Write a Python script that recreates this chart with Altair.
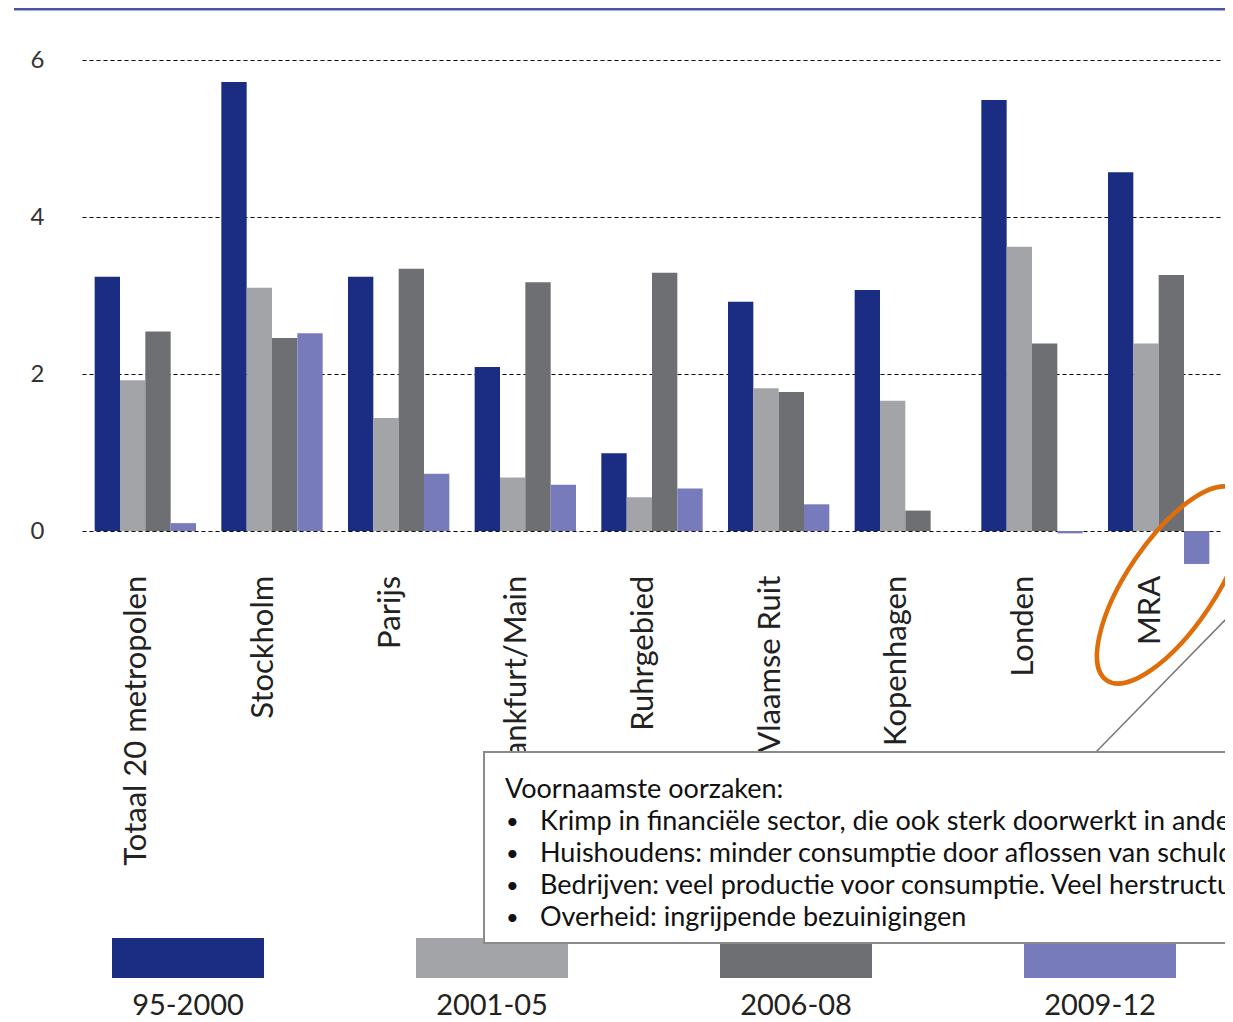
import altair as alt
import pandas as pd

cities = ["Totaal 20 metropolen", "Stockholm", "Parijs", "Frankfurt/Main", "Ruhrgebied",
          "Vlaamse Ruit", "Kopenhagen", "Londen", "MRA"]
periods = ["95-2000", "2001-05", "2006-08", "2009-12"]
colors = ["#1a2d83", "#a3a4a8", "#6e6f73", "#787bbb"]

v_95_2000 = [3.24, 5.72, 3.24, 2.09, 0.99, 2.92, 3.07, 5.49, 4.57]
v_2001_05 = [1.92, 3.10, 1.44, 0.68, 0.43, 1.82, 1.66, 3.62, 2.39]
v_2006_08 = [2.54, 2.46, 3.34, 3.17, 3.29, 1.77, 0.26, 2.39, 3.26]
v_2009_12 = [0.10, 2.52, 0.73, 0.59, 0.54, 0.34, 0.00, -0.03, -0.42]

y_ticks = [0, 2, 4, 6]

note_title = "Voornaamste oorzaken:"
note_items = [
    "Krimp in financiële sector, die ook sterk doorwerkt in andere sectoren",
    "Huishoudens: minder consumptie door aflossen van schulden",
    "Bedrijven: veel productie voor consumptie. Veel herstructureringen",
    "Overheid: ingrijpende bezuinigingen",
]

rows = []
for p, vals in zip(periods, [v_95_2000, v_2001_05, v_2006_08, v_2009_12]):
    for c, v in zip(cities, vals):
        rows.append({"city": c, "period": p, "value": v})
df = pd.DataFrame(rows)
legend_df = pd.DataFrame({"period": periods})
one = pd.DataFrame({"a": [0]})

FONT = "Lato"
color_enc = alt.Color("period:N", scale=alt.Scale(domain=periods, range=colors), legend=None)

bars = alt.Chart(df).mark_bar().encode(
    x=alt.X("city:N", sort=cities, title=None,
            scale=alt.Scale(paddingInner=0.2, paddingOuter=0.1),
            axis=alt.Axis(labelAngle=-90, labelFontSize=31, labelFont=FONT, labelColor="#222222",
                          labelPadding=5, labelLimit=500, labelOffset=-8, ticks=False, tickSize=0,
                          domain=False, grid=False)),
    xOffset=alt.XOffset("period:N", sort=periods, scale=alt.Scale(paddingInner=0, paddingOuter=0)),
    y=alt.Y("value:Q", title=None, scale=alt.Scale(domain=[-0.5, 6], nice=False, zero=False),
            axis=alt.Axis(values=y_ticks, labelFontSize=24, labelFont=FONT, labelColor="#333333",
                          labelPadding=38, ticks=False, tickSize=0, domain=False,
                          grid=True, gridDash=[4, 3], gridColor="#000000", gridWidth=1.2)),
    color=color_enc,
)

legend_x = alt.X("period:N", sort=periods, title=None, axis=None,
                 scale=alt.Scale(domain=periods, range=[-46, 1170], paddingInner=0.5, paddingOuter=0.25))

legend_rects = alt.Chart(legend_df).mark_rect().encode(
    x=legend_x, y=alt.value(878), y2=alt.value(918), color=color_enc,
)
legend_text = alt.Chart(legend_df).mark_text(
    font=FONT, fontSize=29, color="#222222", baseline="alphabetic", align="center"
).encode(x=legend_x, y=alt.value(955), text="period:N")

top_line = alt.Chart(one).mark_rule(color="#4a53a6", strokeWidth=3).encode(
    x=alt.value(-68), x2=alt.value(1180), y=alt.value(-51)
)

pointer = alt.Chart(one).mark_rule(color="#777777", strokeWidth=1.5).encode(
    x=alt.value(1014), y=alt.value(692), x2=alt.value(1146), y2=alt.value(557)
)

box = alt.Chart(one).mark_rect(fill="white", stroke="#8a8a8a", strokeWidth=2).encode(
    x=alt.value(402), x2=alt.value(1200), y=alt.value(692), y2=alt.value(883)
)

title_text = alt.Chart(one).mark_text(
    text=note_title, font=FONT, fontSize=27, color="#111111", align="left", baseline="alphabetic"
).encode(x=alt.value(423), y=alt.value(738))

item_text = alt.Chart(one).mark_text(
    text="\n".join(note_items), lineBreak="\n", lineHeight=32, font=FONT, fontSize=27,
    color="#111111", align="left", baseline="alphabetic"
).encode(x=alt.value(458), y=alt.value(770))

bullets = alt.Chart(one).mark_text(
    text="\n".join(["•"] * len(note_items)), lineBreak="\n", lineHeight=32, font=FONT,
    fontSize=22, color="#111111", align="left", baseline="alphabetic"
).encode(x=alt.value(424), y=alt.value(769))

ellipse_path = ("M 1 0 C 1 0.2121 0.5523 0.384 0 0.384 C -0.5523 0.384 -1 0.2121 -1 0 "
                "C -1 -0.2121 -0.5523 -0.384 0 -0.384 C 0.5523 -0.384 1 -0.2121 1 0 Z")
ellipse = alt.Chart(one).mark_point(
    shape=ellipse_path, size=52900, angle=304, filled=False, stroke="#de6e0c",
    strokeWidth=4.5, opacity=1
).encode(x=alt.value(1089), y=alt.value(525))

chart = alt.layer(
    bars, legend_rects, legend_text, top_line, pointer, box, title_text, item_text, bullets, ellipse
).resolve_scale(x="independent").properties(
    width=1140, height=510.25,
    autosize=alt.AutoSizeParams(type="none"),
    padding={"left": 74, "top": 52, "right": 3, "bottom": 452},
    background="white",
).configure_view(stroke=None)

chart.save("out.html", embed_options={"renderer": "svg", "actions": False})
